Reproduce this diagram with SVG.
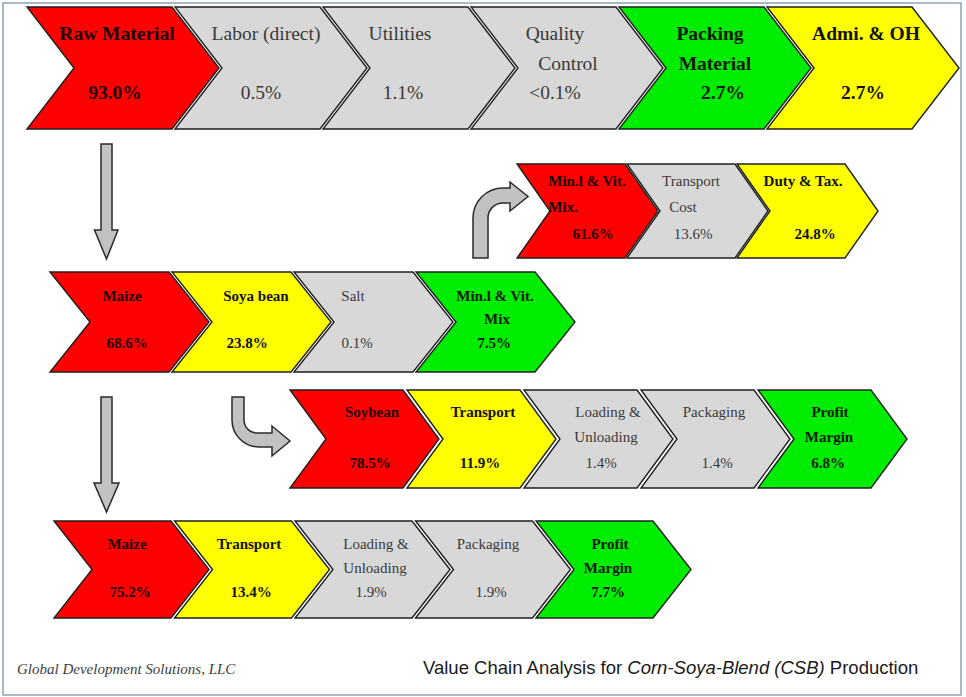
<svg xmlns="http://www.w3.org/2000/svg" xmlns:xlink="http://www.w3.org/1999/xlink" width="966" height="697" viewBox="0 0 966 697">
  <style>
    .chev { stroke: #1e1e1e; stroke-width: 1.4; stroke-linejoin: miter; }
    .red { fill: #ff0000; }
    .yel { fill: #ffff00; }
    .grn { fill: #00ec00; }
    .gry { fill: #d8d8d8; }
    .arrow { fill: #c2c2c2; stroke: #2a2a2a; stroke-width: 1.5; stroke-linejoin: miter; }
    text { font-family: "Liberation Serif", "Times New Roman", serif; text-anchor: middle; }
    .t1 { font-size: 19.5px; }
    .t { font-size: 15px; }
    .b { font-weight: bold; }
    .dk { fill: #1a0000; }
    .bk { fill: #111111; }
    .gt { fill: #3a3a3a; }
    .gn { fill: #0a1a00; }
  </style>
  <defs>
    <!-- chevron outlines, one per row height -->
    <path id="c1" d="M0,0 H145 L192,61 L145,122 H0 L47,61 Z"/>
    <path id="c2" d="M0,0 H108 L141,47 L108,94 H0 L33,47 Z"/>
    <path id="c3" d="M0,0 H119 L159,50 L119,100 H0 L40,50 Z"/>
    <path id="c4" d="M0,0 H113 L149,49 L113,98 H0 L36,49 Z"/>
    <path id="c5" d="M0,0 H117 L155,48.5 L117,97 H0 L38,48.5 Z"/>
  </defs>

  <!-- page frame -->
  <rect x="3" y="3" width="958" height="692" fill="#ffffff" stroke="#8fa2b6" stroke-width="1.5"/>

  <!-- row 1: production cost breakdown -->
  <g id="raw-material">
    <use xlink:href="#c1" x="27" y="7" class="chev red"/>
    <text class="t1 b dk" x="117" y="40">Raw Material</text>
    <text class="t1 b dk" x="115" y="99">93.0%</text>
  </g>
  <g id="labor">
    <use xlink:href="#c1" x="175" y="7" class="chev gry"/>
    <text class="t1 gt" x="266" y="40">Labor (direct)</text>
    <text class="t1 gt" x="261" y="99">0.5%</text>
  </g>
  <g id="utilities">
    <use xlink:href="#c1" x="323" y="7" class="chev gry"/>
    <text class="t1 gt" x="400" y="40">Utilities</text>
    <text class="t1 gt" x="403" y="99">1.1%</text>
  </g>
  <g id="quality-control">
    <use xlink:href="#c1" x="471" y="7" class="chev gry"/>
    <text class="t1 gt" x="555" y="40">Quality</text>
    <text class="t1 gt" x="568" y="70">Control</text>
    <text class="t1 gt" x="555" y="99">&lt;0.1%</text>
  </g>
  <g id="packing-material">
    <use xlink:href="#c1" x="619" y="7" class="chev grn"/>
    <text class="t1 b gn" x="710" y="40">Packing</text>
    <text class="t1 b gn" x="715" y="70">Material</text>
    <text class="t1 b gn" x="723" y="99">2.7%</text>
  </g>
  <g id="admin-overhead">
    <use xlink:href="#c1" x="767" y="7" class="chev yel"/>
    <text class="t1 b bk" x="866" y="40">Admi. &amp; OH</text>
    <text class="t1 b bk" x="863" y="99">2.7%</text>
  </g>

  <!-- row 2: mineral & vitamin mix -->
  <g id="mix-import">
    <use xlink:href="#c2" x="517" y="164" class="chev red"/>
    <text class="t b dk" x="587" y="186">Min.l &amp; Vit.</text>
    <text class="t b dk" x="563" y="212">Mix.</text>
    <text class="t b dk" x="593" y="239">61.6%</text>
  </g>
  <g id="mix-transport">
    <use xlink:href="#c2" x="627" y="164" class="chev gry"/>
    <text class="t gt" x="691" y="186">Transport</text>
    <text class="t gt" x="683" y="212">Cost</text>
    <text class="t gt" x="693" y="239">13.6%</text>
  </g>
  <g id="mix-duty">
    <use xlink:href="#c2" x="737" y="164" class="chev yel"/>
    <text class="t b bk" x="803" y="186">Duty &amp; Tax.</text>
    <text class="t b bk" x="815" y="239">24.8%</text>
  </g>

  <!-- row 3: raw material split -->
  <g id="maize-share">
    <use xlink:href="#c3" x="50" y="272" class="chev red"/>
    <text class="t b dk" x="122" y="301">Maize</text>
    <text class="t b dk" x="127" y="348">68.6%</text>
  </g>
  <g id="soya-share">
    <use xlink:href="#c3" x="172" y="272" class="chev yel"/>
    <text class="t b bk" x="256" y="301">Soya bean</text>
    <text class="t b bk" x="247" y="348">23.8%</text>
  </g>
  <g id="salt-share">
    <use xlink:href="#c3" x="294" y="272" class="chev gry"/>
    <text class="t gt" x="353" y="301">Salt</text>
    <text class="t gt" x="357" y="348">0.1%</text>
  </g>
  <g id="mix-share">
    <use xlink:href="#c3" x="416" y="272" class="chev grn"/>
    <text class="t b gn" x="495" y="301">Min.l &amp; Vit.</text>
    <text class="t b gn" x="497" y="324">Mix</text>
    <text class="t b gn" x="494" y="348">7.5%</text>
  </g>

  <!-- row 4: soybean chain -->
  <g id="soybean">
    <use xlink:href="#c4" x="290" y="390" class="chev red"/>
    <text class="t b dk" x="372" y="417">Soybean</text>
    <text class="t b dk" x="370" y="468">78.5%</text>
  </g>
  <g id="soybean-transport">
    <use xlink:href="#c4" x="407" y="390" class="chev yel"/>
    <text class="t b bk" x="483" y="417">Transport</text>
    <text class="t b bk" x="480" y="468">11.9%</text>
  </g>
  <g id="soybean-loading">
    <use xlink:href="#c4" x="524" y="390" class="chev gry"/>
    <text class="t gt" x="608" y="417">Loading &amp;</text>
    <text class="t gt" x="606" y="442">Unloading</text>
    <text class="t gt" x="601" y="468">1.4%</text>
  </g>
  <g id="soybean-packaging">
    <use xlink:href="#c4" x="641" y="390" class="chev gry"/>
    <text class="t gt" x="714" y="417">Packaging</text>
    <text class="t gt" x="717" y="468">1.4%</text>
  </g>
  <g id="soybean-profit">
    <use xlink:href="#c4" x="758" y="390" class="chev grn"/>
    <text class="t b gn" x="830" y="417">Profit</text>
    <text class="t b gn" x="829" y="442">Margin</text>
    <text class="t b gn" x="828" y="468">6.8%</text>
  </g>

  <!-- row 5: maize chain -->
  <g id="maize">
    <use xlink:href="#c5" x="54" y="521" class="chev red"/>
    <text class="t b dk" x="127" y="549">Maize</text>
    <text class="t b dk" x="130" y="597">75.2%</text>
  </g>
  <g id="maize-transport">
    <use xlink:href="#c5" x="174.5" y="521" class="chev yel"/>
    <text class="t b bk" x="249" y="549">Transport</text>
    <text class="t b bk" x="251" y="597">13.4%</text>
  </g>
  <g id="maize-loading">
    <use xlink:href="#c5" x="295" y="521" class="chev gry"/>
    <text class="t gt" x="376" y="549">Loading &amp;</text>
    <text class="t gt" x="375" y="573">Unloading</text>
    <text class="t gt" x="371" y="597">1.9%</text>
  </g>
  <g id="maize-packaging">
    <use xlink:href="#c5" x="415.5" y="521" class="chev gry"/>
    <text class="t gt" x="488" y="549">Packaging</text>
    <text class="t gt" x="491" y="597">1.9%</text>
  </g>
  <g id="maize-profit">
    <use xlink:href="#c5" x="536" y="521" class="chev grn"/>
    <text class="t b gn" x="610" y="549">Profit</text>
    <text class="t b gn" x="608" y="573">Margin</text>
    <text class="t b gn" x="608" y="597">7.7%</text>
  </g>

  <!-- connectors: block arrows -->
  <g id="connectors">
    <path class="arrow" d="M101,144 H112 V230 H118 L106.5,259 L94.5,230 H101 Z"/>
    <path class="arrow" d="M101,397 H112 V483 H119 L106.5,512 L94,483 H101 Z"/>
    <path class="arrow" d="M473,258 L473,218 A30,30 0 0 1 503,188 L510,188 L510,182 L528,196.5 L510,211 L510,203 L503,203 A15,15 0 0 0 488,218 L488,258 Z"/>
    <path class="arrow" d="M232,397 L244,397 L244,420 A13,13 0 0 0 257,433 L272,433 L272,426 L290,441 L272,456 L272,447 L259,447 A27,27 0 0 1 232,420 Z"/>
  </g>

  <!-- footer -->
  <text x="17" y="674" style="text-anchor:start; font-size:15px; font-style:italic; fill:#404040;">Global Development Solutions, LLC</text>
  <text x="423" y="674" style="text-anchor:start; font-family:'Liberation Sans', Arial, sans-serif; font-size:18.5px; fill:#1a1a1a;">Value Chain Analysis for <tspan font-style="italic">Corn-Soya-Blend (CSB)</tspan> Production</text>
</svg>
